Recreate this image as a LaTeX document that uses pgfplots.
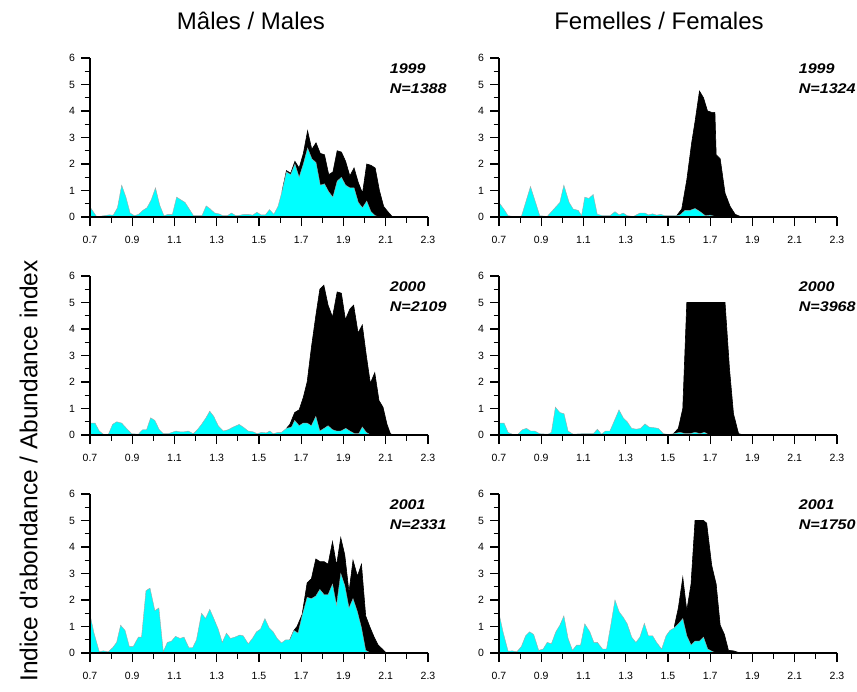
\documentclass[border=0pt]{standalone}
\usepackage{fontspec}
\setmainfont{Liberation Sans}
\usepackage{pgfplots}
\pgfplotsset{compat=1.18}

\definecolor{aqua}{RGB}{0,255,255}

\tikzset{
  total/.style={fill=black, draw=black, line width=0.6pt},
  part/.style={fill=aqua, draw=gray!70, line width=0.4pt},
  year/.style={anchor=base west, xscale=1.15, font=\bfseries\itshape\fontsize{14}{17}\selectfont},
}

\pgfplotsset{
  panel/.style={
    scale only axis, width=338pt, height=159pt,
    xmin=0.7, xmax=2.3, ymin=0, ymax=6,
    axis x line*=bottom, axis y line*=left,
    axis line style={line width=1.6pt},
    axis on top, clip mode=individual,
    xtick={0.7,0.9,1.1,1.3,1.5,1.7,1.9,2.1,2.3},
    xticklabels={0.7,0.9,1.1,1.3,1.5,1.7,1.9,2.1,2.3},
    minor xtick={0.8,1.0,1.2,1.4,1.6,1.8,2.0,2.2},
    ytick={0,1,2,3,4,5,6},
    yticklabels={0,1,2,3,4,5,6},
    minor ytick={0.5,1.5,2.5,3.5,4.5,5.5},
    tick align=outside,
    major tick length=9pt, minor tick length=5.5pt,
    major tick style={black, line width=1.2pt},
    minor tick style={black, line width=1.2pt},
    tick label style={font=\fontsize{10.5}{12}\selectfont},
    xticklabel style={yshift=-6.5pt},
    yticklabel style={xshift=-2.5pt},
  },
}

\begin{document}
\begin{tikzpicture}
\useasboundingbox (0,0) rectangle (857pt,-691pt);

% column titles and common y label
\node[anchor=base, font=\fontsize{24}{28}\selectfont] at (251pt,-29pt) {Mâles / Males};
\node[anchor=base, font=\fontsize{24}{28}\selectfont] at (659pt,-29pt) {Femelles / Females};
\node[anchor=base, rotate=90, font=\fontsize{24.5}{28}\selectfont] at (37.3pt,-471pt) {Indice d\textquotesingle abondance / Abundance index};

% ---------- Males 1999 ----------
\begin{axis}[panel, at={(90pt,-217pt)}, anchor=south west]
\addplot[total] coordinates {(1.61,1.0) (1.63,1.75) (1.65,1.65) (1.67,2.1) (1.69,1.85) (1.71,2.4) (1.73,3.25) (1.75,2.55) (1.77,2.8) (1.79,2.4) (1.81,2.35) (1.83,1.6) (1.85,1.7) (1.87,2.5) (1.89,2.45) (1.91,2.1) (1.93,1.55) (1.95,1.85) (1.97,1.3) (1.99,0.9) (2.01,2.0) (2.03,1.95) (2.05,1.85) (2.07,1.0) (2.09,0.4) (2.11,0.2) (2.13,0.02) (2.30,0)} \closedcycle;
\addplot[part] coordinates {(0.70,0.38) (0.73,0.03) (0.75,0.03) (0.79,0.08) (0.81,0.07) (0.83,0.35) (0.85,1.2) (0.87,0.75) (0.89,0.15) (0.91,0.05) (0.93,0.1) (0.95,0.25) (0.97,0.35) (0.99,0.65) (1.01,1.1) (1.03,0.45) (1.05,0.05) (1.07,0.1) (1.09,0.1) (1.11,0.75) (1.13,0.65) (1.15,0.55) (1.17,0.3) (1.19,0.05) (1.23,0.05) (1.25,0.42) (1.27,0.3) (1.29,0.15) (1.31,0.12) (1.33,0.05) (1.35,0.05) (1.37,0.15) (1.39,0.05) (1.41,0.07) (1.43,0.1) (1.45,0.1) (1.47,0.07) (1.49,0.18) (1.51,0.08) (1.53,0.08) (1.55,0.28) (1.57,0.1) (1.59,0.4) (1.61,1.0) (1.63,1.7) (1.65,1.6) (1.67,2.0) (1.69,1.5) (1.71,2.0) (1.73,2.6) (1.75,2.2) (1.77,2.05) (1.79,1.2) (1.81,1.25) (1.83,0.95) (1.85,0.75) (1.87,1.35) (1.89,1.5) (1.91,1.2) (1.93,1.1) (1.95,1.1) (1.97,0.55) (1.99,0.35) (2.01,0.6) (2.03,0.2) (2.05,0.05) (2.07,0)} \closedcycle;
\node[year] at (axis cs:2.1,5.4) {1999};
\node[year] at (axis cs:2.1,4.65) {N=1388};
\end{axis}

% ---------- Females 1999 ----------
\begin{axis}[panel, at={(499pt,-217pt)}, anchor=south west]
\addplot[total] coordinates {(1.541,0.05) (1.565,0.3) (1.589,1.4) (1.612,2.8) (1.628,3.6) (1.649,4.75) (1.668,4.5) (1.687,4.0) (1.707,3.95) (1.722,3.95) (1.728,2.35) (1.747,2.2) (1.770,0.9) (1.794,0.4) (1.818,0.1) (1.842,0.02) (1.857,0) (2.30,0)} \closedcycle;
\addplot[part] coordinates {(0.700,0.55) (0.727,0.25) (0.743,0.05) (0.766,0.02) (0.806,0.02) (0.849,1.15) (0.893,0.05) (0.928,0.02) (0.988,0.55) (1.007,1.2) (1.032,0.55) (1.051,0.3) (1.075,0.25) (1.091,0.05) (1.106,0.75) (1.125,0.7) (1.146,0.85) (1.165,0.1) (1.193,0.05) (1.225,0.05) (1.249,0.2) (1.269,0.08) (1.288,0.15) (1.307,0.05) (1.336,0.02) (1.367,0.15) (1.391,0.15) (1.407,0.08) (1.427,0.12) (1.446,0.07) (1.465,0.1) (1.486,0.05) (1.541,0.05) (1.557,0.08) (1.581,0.25) (1.604,0.25) (1.628,0.32) (1.652,0.2) (1.676,0.05) (1.699,0.07) (1.723,0.02) (1.747,0)} \closedcycle;
\node[year] at (axis cs:2.1,5.4) {1999};
\node[year] at (axis cs:2.1,4.65) {N=1324};
\end{axis}

% ---------- Males 2000 ----------
\begin{axis}[panel, at={(90pt,-435pt)}, anchor=south west]
\addplot[total] coordinates {(1.630,0.25) (1.646,0.4) (1.669,0.85) (1.690,0.95) (1.709,1.4) (1.728,2.0) (1.748,3.3) (1.769,4.5) (1.788,5.5) (1.807,5.65) (1.827,4.9) (1.848,4.45) (1.870,5.4) (1.890,5.35) (1.909,4.35) (1.930,4.75) (1.948,4.9) (1.969,3.85) (1.989,4.15) (2.008,3.0) (2.027,1.95) (2.048,2.35) (2.068,1.3) (2.087,1.05) (2.106,0.4) (2.122,0.05) (2.134,0) (2.30,0)} \closedcycle;
\addplot[part] coordinates {(0.700,0.45) (0.724,0.45) (0.744,0.15) (0.763,0.03) (0.787,0.03) (0.807,0.4) (0.826,0.5) (0.850,0.45) (0.873,0.25) (0.897,0.05) (0.929,0.03) (0.949,0.2) (0.968,0.2) (0.987,0.65) (1.007,0.55) (1.028,0.2) (1.047,0.05) (1.070,0.05) (1.107,0.15) (1.126,0.12) (1.145,0.12) (1.165,0.15) (1.189,0.05) (1.208,0.2) (1.228,0.4) (1.249,0.65) (1.267,0.9) (1.286,0.7) (1.307,0.35) (1.331,0.15) (1.354,0.2) (1.378,0.3) (1.406,0.4) (1.425,0.3) (1.449,0.15) (1.472,0.12) (1.491,0.05) (1.512,0.1) (1.535,0.08) (1.551,0.15) (1.567,0.05) (1.591,0.1) (1.606,0.1) (1.630,0.25) (1.654,0.3) (1.669,0.55) (1.690,0.35) (1.709,0.45) (1.728,0.45) (1.748,0.35) (1.769,0.7) (1.788,0.15) (1.808,0.25) (1.827,0.35) (1.848,0.2) (1.867,0.15) (1.887,0.15) (1.911,0.25) (1.930,0.15) (1.953,0.05) (1.972,0.05) (1.989,0.3) (2.008,0.1) (2.024,0.02) (2.040,0)} \closedcycle;
\node[year] at (axis cs:2.1,5.4) {2000};
\node[year] at (axis cs:2.1,4.65) {N=2109};
\end{axis}

% ---------- Females 2000 ----------
\begin{axis}[panel, at={(499pt,-435pt)}, anchor=south west]
\addplot[total] coordinates {(1.526,0.05) (1.549,0.25) (1.570,1.0) (1.589,5.0) (1.770,5.0) (1.791,2.5) (1.810,0.8) (1.834,0.05) (1.849,0.02) (1.870,0) (2.30,0)} \closedcycle;
\addplot[part] coordinates {(0.700,0.45) (0.724,0.45) (0.743,0.1) (0.766,0.02) (0.790,0.03) (0.811,0.2) (0.830,0.25) (0.850,0.15) (0.869,0.15) (0.893,0.05) (0.932,0.03) (0.948,0.1) (0.967,1.05) (0.988,0.85) (1.008,0.8) (1.027,0.15) (1.051,0.03) (1.091,0.05) (1.130,0.05) (1.146,0.05) (1.166,0.22) (1.185,0.03) (1.204,0.15) (1.225,0.15) (1.244,0.5) (1.268,0.95) (1.288,0.65) (1.307,0.5) (1.328,0.25) (1.351,0.22) (1.370,0.25) (1.391,0.42) (1.410,0.3) (1.430,0.28) (1.454,0.25) (1.478,0.05) (1.502,0.02) (1.526,0.05) (1.557,0.1) (1.581,0.05) (1.604,0.05) (1.628,0.1) (1.652,0.05) (1.672,0.1) (1.691,0.02) (1.715,0)} \closedcycle;
\node[year] at (axis cs:2.1,5.4) {2000};
\node[year] at (axis cs:2.1,4.65) {N=3968};
\end{axis}

% ---------- Males 2001 ----------
\begin{axis}[panel, at={(90pt,-653pt)}, anchor=south west]
\addplot[total] coordinates {(1.646,0.5) (1.665,0.85) (1.680,1.0) (1.704,1.45) (1.728,2.65) (1.748,2.8) (1.769,3.55) (1.788,3.45) (1.808,3.45) (1.827,3.35) (1.848,4.2) (1.867,3.3) (1.887,4.35) (1.906,3.7) (1.926,2.3) (1.945,3.5) (1.966,2.9) (1.985,3.35) (2.005,1.4) (2.024,1.0) (2.045,0.6) (2.064,0.3) (2.084,0.15) (2.100,0.02) (2.119,0) (2.30,0)} \closedcycle;
\addplot[part] coordinates {(0.700,1.45) (0.719,0.75) (0.744,0.05) (0.763,0.08) (0.787,0.05) (0.807,0.2) (0.826,0.4) (0.845,1.05) (0.866,0.85) (0.886,0.25) (0.905,0.25) (0.929,0.6) (0.944,0.6) (0.965,2.35) (0.984,2.45) (1.007,1.6) (1.026,1.7) (1.047,0.05) (1.066,0.4) (1.086,0.45) (1.105,0.63) (1.126,0.55) (1.145,0.6) (1.168,0.2) (1.186,0.2) (1.204,0.5) (1.228,1.5) (1.247,1.3) (1.267,1.65) (1.286,1.3) (1.307,0.9) (1.326,0.4) (1.346,0.75) (1.365,0.55) (1.386,0.6) (1.409,0.68) (1.425,0.65) (1.449,0.35) (1.469,0.55) (1.488,0.8) (1.507,0.9) (1.528,1.3) (1.548,0.95) (1.567,0.8) (1.586,0.55) (1.606,0.38) (1.627,0.5) (1.646,0.5) (1.665,0.85) (1.685,0.75) (1.704,1.4) (1.728,2.1) (1.748,2.05) (1.769,2.15) (1.788,2.4) (1.808,2.2) (1.827,2.2) (1.848,2.6) (1.867,1.8) (1.887,3.0) (1.906,2.55) (1.926,1.7) (1.945,2.05) (1.966,1.55) (1.985,0.95) (2.005,0.1) (2.024,0.02) (2.040,0)} \closedcycle;
\node[year] at (axis cs:2.1,5.4) {2001};
\node[year] at (axis cs:2.1,4.65) {N=2331};
\end{axis}

% ---------- Females 2001 ----------
\begin{axis}[panel, at={(499pt,-653pt)}, anchor=south west]
\addplot[total] coordinates {(1.530,1.0) (1.549,1.7) (1.570,2.85) (1.589,1.6) (1.609,2.6) (1.628,5.0) (1.668,5.0) (1.683,4.9) (1.707,3.3) (1.728,2.6) (1.747,1.05) (1.767,0.7) (1.786,0.1) (1.810,0.08) (1.834,0.02) (1.857,0) (2.30,0)} \closedcycle;
\addplot[part] coordinates {(0.700,1.5) (0.719,0.8) (0.743,0.07) (0.763,0.08) (0.785,0.05) (0.806,0.25) (0.826,0.65) (0.845,0.8) (0.864,0.7) (0.888,0.1) (0.909,0.15) (0.928,0.4) (0.948,0.35) (0.969,0.8) (0.988,1.05) (1.007,1.4) (1.027,0.55) (1.048,0.1) (1.067,0.3) (1.086,0.3) (1.106,1.1) (1.130,0.8) (1.149,0.4) (1.166,0.4) (1.190,0.15) (1.209,0.15) (1.228,1.0) (1.249,2.0) (1.269,1.55) (1.288,1.35) (1.307,1.1) (1.328,0.6) (1.348,0.4) (1.367,0.6) (1.388,1.12) (1.407,0.65) (1.427,0.65) (1.446,0.4) (1.470,0.15) (1.491,0.65) (1.509,0.85) (1.530,0.95) (1.549,1.1) (1.570,1.3) (1.589,0.65) (1.609,0.3) (1.628,0.45) (1.649,0.45) (1.668,0.6) (1.688,0.15) (1.712,0.05) (1.731,0)} \closedcycle;
\node[year] at (axis cs:2.1,5.4) {2001};
\node[year] at (axis cs:2.1,4.65) {N=1750};
\end{axis}
\end{tikzpicture}
\end{document}
